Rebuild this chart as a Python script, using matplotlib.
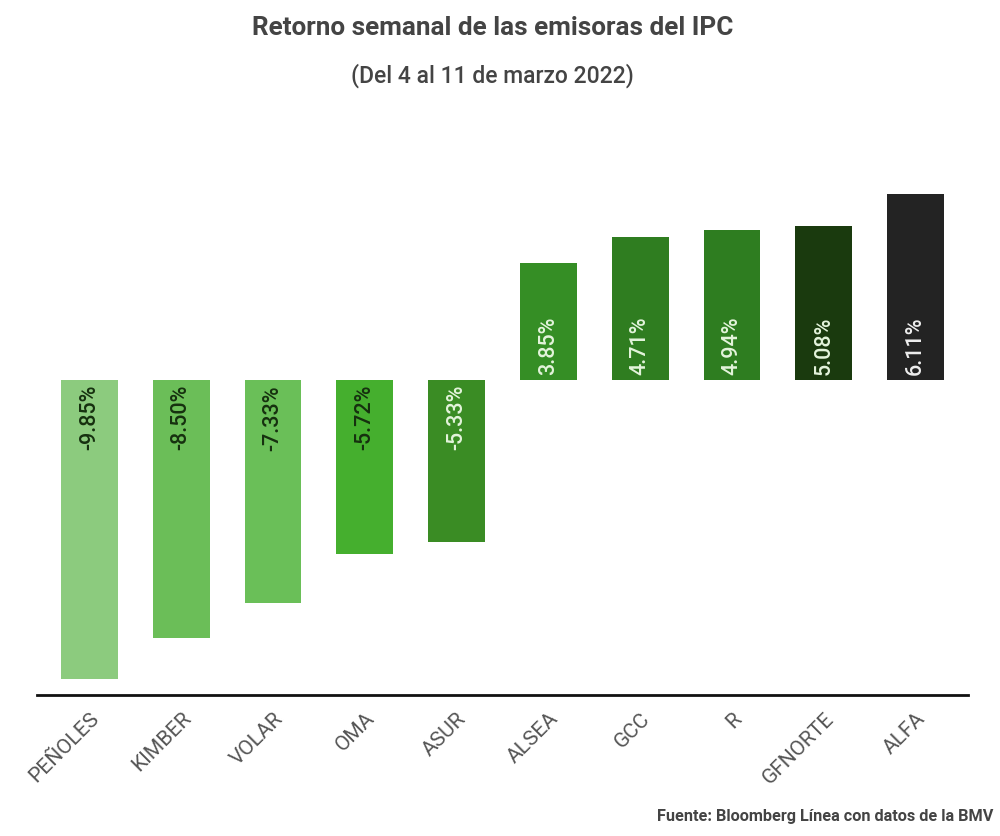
import matplotlib
matplotlib.use("Agg")
import matplotlib.pyplot as plt

categories = ["PEÑOLES", "KIMBER", "VOLAR", "OMA", "ASUR", "ALSEA", "GCC", "R", "GFNORTE", "ALFA"]
returns = [-9.85, -8.50, -7.33, -5.72, -5.33, 3.85, 4.71, 4.94, 5.08, 6.11]
bar_colors = ["#8ccb7e", "#6bbe58", "#6abf58", "#45af2e", "#3a8c24",
              "#358e25", "#2f7d20", "#2e7d20", "#1a3a0e", "#232323"]
label_colors = ["#16300f", "#16300f", "#16300f", "#16300f", "#e4f4dc",
                "#e4f4dc", "#e4f4dc", "#e4f4dc", "#e4f4dc", "#eeeeee"]
value_labels = ["-9.85%", "-8.50%", "-7.33%", "-5.72%", "-5.33%",
                "3.85%", "4.71%", "4.94%", "5.08%", "6.11%"]

plt.rcParams['font.family'] = ['Roboto', 'DejaVu Sans']

fig = plt.figure(figsize=(10, 8.36), dpi=100)
ax = fig.add_axes([0.037, 0.1687, 0.931, 0.616])

x = list(range(len(categories)))
bars = ax.bar(x, returns, width=0.62, color=bar_colors, zorder=2)

for xi, v, lab, c in zip(x, returns, value_labels, label_colors):
    if v < 0:
        ax.annotate(lab, (xi, 0), xytext=(0, -5), textcoords='offset pixels',
                    rotation=90, ha='center', va='top', color=c,
                    fontsize=15.5, fontweight='medium')
    else:
        ax.annotate(lab, (xi, 0), xytext=(0, 5), textcoords='offset pixels',
                    rotation=90, ha='center', va='bottom', color=c,
                    fontsize=15.5, fontweight='medium')

ax.set_xlim(-0.57, 9.57)
ax.set_ylim(-10.36, 6.58)
ax.set_xticks(x)
ax.set_xticklabels(categories, rotation=45, ha='right', rotation_mode='anchor',
                   fontsize=15, color='#555555')
ax.tick_params(axis='x', length=0, pad=10)
ax.set_yticks([])
for s in ['top', 'right', 'left']:
    ax.spines[s].set_visible(False)
ax.spines['bottom'].set_linewidth(2)
ax.spines['bottom'].set_color('#111111')

fig.text(0.493, 0.966, "Retorno semanal de las emisoras del IPC", ha='center', va='center',
         fontsize=18.8, fontweight='bold', color='#444444')
fig.text(0.492, 0.909, "(Del 4 al 11 de marzo 2022)", ha='center', va='center',
         fontsize=16.5, fontweight='medium', color='#444444')
fig.text(0.993, 0.023, "Fuente: Bloomberg Línea con datos de la BMV", ha='right', va='center',
         fontsize=11.7, fontweight='bold', color='#444444')

fig.savefig("out.png", dpi=100, facecolor='white')
